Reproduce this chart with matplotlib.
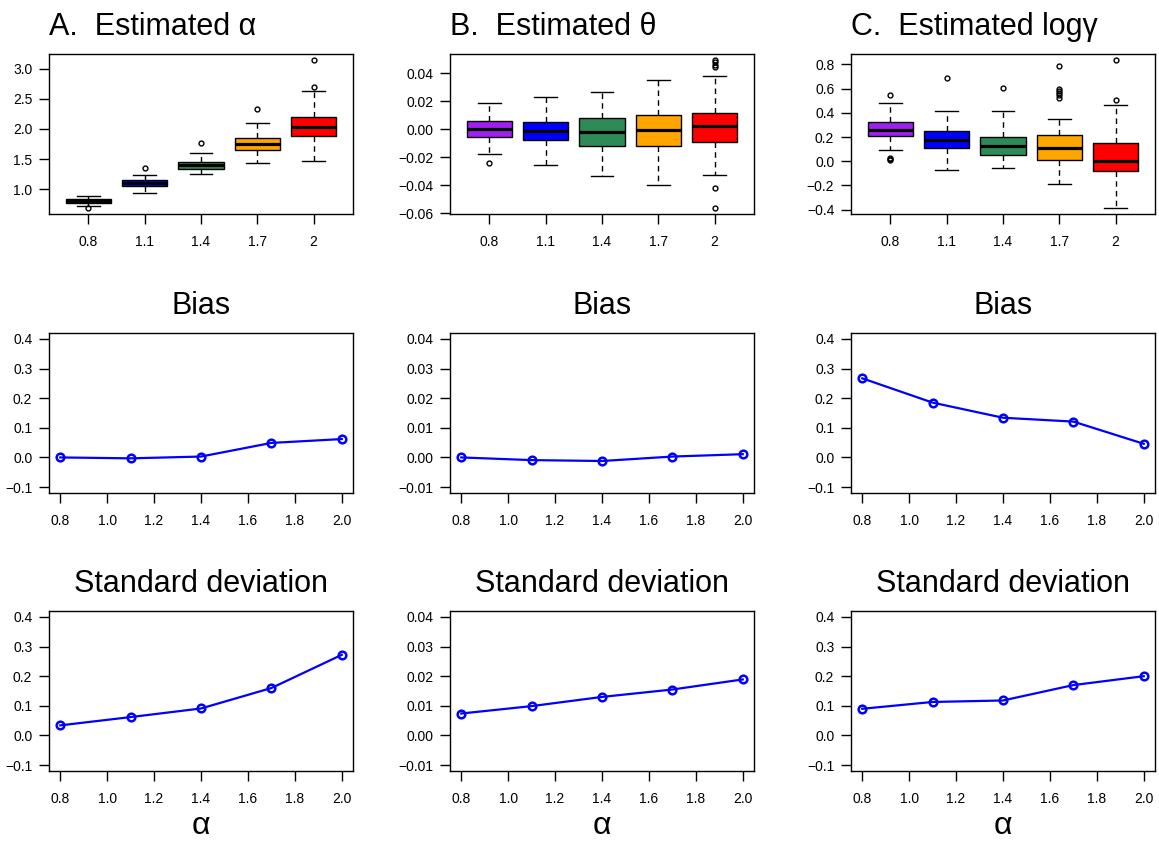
import numpy as np
import matplotlib
matplotlib.use("Agg")
import matplotlib.pyplot as plt
from matplotlib.ticker import FuncFormatter

plt.rcParams['font.family'] = ['Liberation Sans', 'DejaVu Sans']

alpha_levels = [0.8, 1.1, 1.4, 1.7, 2.0]
group_labels = ["0.8", "1.1", "1.4", "1.7", "2"]
box_colors = ["#A020F0", "#0000FF", "#2E8B57", "#FFA500", "#FF0000"]

# boxplot summaries: q1, median, q3, lower / upper whisker, outliers
a_q1 = [0.78, 1.055, 1.335, 1.648, 1.89]
a_med = [0.81, 1.10, 1.405, 1.747, 2.033]
a_q3 = [0.835, 1.154, 1.46, 1.857, 2.203]
a_lo = [0.72, 0.94, 1.25, 1.434, 1.462]
a_hi = [0.895, 1.23, 1.60, 2.105, 2.632]
a_out = [[0.69], [1.357], [1.775], [2.324], [2.687, 3.143]]

t_q1 = [-0.0057, -0.0078, -0.0123, -0.0121, -0.0095]
t_med = [0.0, -0.001, -0.0021, -0.0007, 0.0021]
t_q3 = [0.0057, 0.005, 0.0083, 0.0102, 0.0118]
t_lo = [-0.018, -0.0253, -0.0331, -0.0395, -0.0324]
t_hi = [0.0189, 0.0232, 0.0262, 0.0352, 0.0376]
t_out = [[-0.0241], [], [], [], [0.0494, 0.0478, 0.0459, 0.0444, -0.0423, -0.0563]]

g_q1 = [0.211, 0.11, 0.049, 0.011, -0.08]
g_med = [0.258, 0.178, 0.124, 0.107, 0.005]
g_q3 = [0.327, 0.25, 0.203, 0.214, 0.151]
g_lo = [0.093, -0.074, -0.055, -0.189, -0.387]
g_hi = [0.483, 0.417, 0.412, 0.349, 0.461]
g_out = [[0.544, 0.027, 0.014, 0.022], [0.689], [0.601],
         [0.783, 0.593, 0.579, 0.563, 0.546, 0.522], [0.837, 0.502]]

# bias and standard deviation against alpha
bias_a = [0.0, -0.003, 0.003, 0.049, 0.062]
bias_t = [0.0, -0.0009, -0.0012, 0.0003, 0.0011]
bias_g = [0.267, 0.185, 0.134, 0.121, 0.046]
sd_a = [0.034, 0.062, 0.091, 0.160, 0.272]
sd_t = [0.0074, 0.0099, 0.013, 0.0155, 0.0189]
sd_g = [0.090, 0.113, 0.118, 0.170, 0.200]

W, H = 1159, 841
fig = plt.figure(figsize=(W / 100, H / 100), dpi=100)

col_left = [49, 450, 851]
row_top = [54, 333, 611]
aw, ah = 304, 160


def make_ax(r, c):
    return fig.add_axes([col_left[c] / W, 1 - (row_top[r] + ah) / H, aw / W, ah / H])


def fmt(nd):
    # R style labels with a real minus sign
    return FuncFormatter(lambda v, p: ('%.*f' % (nd, v)).replace('-', '\u2212'))


def style(ax):
    ax.tick_params(direction='out', length=7, width=1, labelsize=10, pad=5, colors='black')
    ax.tick_params(axis='x', pad=8)
    for s in ax.spines.values():
        s.set_linewidth(1)


def boxpanel(ax, q1, med, q3, lo, hi, out, yticks, nd, title):
    stats = []
    for i in range(5):
        stats.append(dict(q1=q1[i], med=med[i], q3=q3[i], whislo=lo[i], whishi=hi[i], fliers=out[i]))
    bp = ax.bxp(stats, positions=range(1, 6), widths=0.8, patch_artist=True, capwidths=0.4,
                boxprops=dict(linewidth=1, edgecolor='black'),
                medianprops=dict(color='black', linewidth=2.3),
                whiskerprops=dict(color='black', linestyle=(0, (4, 3)), linewidth=1),
                capprops=dict(color='black', linewidth=1),
                flierprops=dict(marker='o', markerfacecolor='none', markeredgecolor='black',
                                markersize=3.5, markeredgewidth=1))
    for patch, col in zip(bp['boxes'], box_colors):
        patch.set_facecolor(col)
    allv = lo + hi + [v for f in out for v in f]
    lo_v, hi_v = min(allv), max(allv)
    pad = 0.04 * (hi_v - lo_v)
    ax.set_ylim(lo_v - pad, hi_v + pad)
    ax.set_xlim(0.3, 5.7)
    ax.set_xticks(range(1, 6))
    ax.set_xticklabels(group_labels)
    ax.set_yticks(yticks)
    ax.yaxis.set_major_formatter(fmt(nd))
    ax.set_title(title, loc='left', fontsize=22, pad=14)
    style(ax)


def linepanel(ax, y, ylim, yticks, nd, title, xlabel=False):
    ax.plot(alpha_levels, y, color='#0000FF', linewidth=1.6, marker='o', markersize=5.5,
            markerfacecolor='none', markeredgewidth=1.8)
    ax.set_xlim(0.752, 2.048)
    ax.set_ylim(*ylim)
    ax.set_xticks([0.8, 1.0, 1.2, 1.4, 1.6, 1.8, 2.0])
    ax.xaxis.set_major_formatter(fmt(1))
    ax.set_yticks(yticks)
    ax.yaxis.set_major_formatter(fmt(nd))
    ax.set_title(title, fontsize=22, pad=14)
    if xlabel:
        ax.set_xlabel('\u03b1', fontsize=23, labelpad=4)
    style(ax)


boxpanel(make_ax(0, 0), a_q1, a_med, a_q3, a_lo, a_hi, a_out,
         [1.0, 1.5, 2.0, 2.5, 3.0], 1, 'A.  Estimated \u03b1')
boxpanel(make_ax(0, 1), t_q1, t_med, t_q3, t_lo, t_hi, t_out,
         [-0.06, -0.04, -0.02, 0.0, 0.02, 0.04], 2, 'B.  Estimated \u03b8')
boxpanel(make_ax(0, 2), g_q1, g_med, g_q3, g_lo, g_hi, g_out,
         [-0.4, -0.2, 0.0, 0.2, 0.4, 0.6, 0.8], 1, 'C.  Estimated log\u03b3')

big = (-0.12, 0.42)
big_ticks = [-0.1, 0.0, 0.1, 0.2, 0.3, 0.4]
small = (-0.012, 0.042)
small_ticks = [-0.01, 0.0, 0.01, 0.02, 0.03, 0.04]

linepanel(make_ax(1, 0), bias_a, big, big_ticks, 1, 'Bias')
linepanel(make_ax(1, 1), bias_t, small, small_ticks, 2, 'Bias')
linepanel(make_ax(1, 2), bias_g, big, big_ticks, 1, 'Bias')
linepanel(make_ax(2, 0), sd_a, big, big_ticks, 1, 'Standard deviation', True)
linepanel(make_ax(2, 1), sd_t, small, small_ticks, 2, 'Standard deviation', True)
linepanel(make_ax(2, 2), sd_g, big, big_ticks, 1, 'Standard deviation', True)

fig.savefig('out.png', dpi=100)
